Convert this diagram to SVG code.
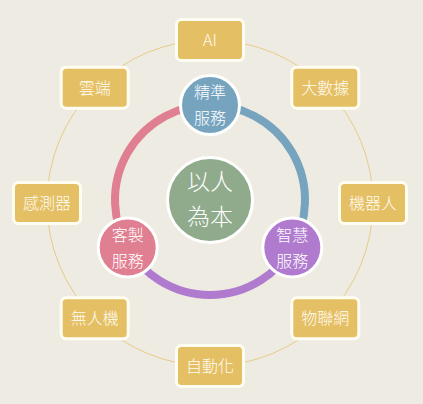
<svg xmlns="http://www.w3.org/2000/svg" width="423" height="404" viewBox="0 0 423 404">
<style>
.box{fill:#e5bf64;stroke:#fffdf2;stroke-width:3}
.bt{font-family:"Noto Sans CJK TC","Noto Sans CJK SC",sans-serif;font-weight:300;font-size:16px;fill:#fffdf2;text-anchor:middle}
.ct{font-family:"Noto Sans CJK TC","Noto Sans CJK SC",sans-serif;font-weight:300;fill:#ffffff;text-anchor:middle}
.node{stroke:#ffffff;stroke-width:3}
</style>
<rect width="423" height="404" fill="#eeebe3"/>
<g id="connectors" fill="none">
<circle cx="210" cy="203" r="163" stroke="#e6cc88" stroke-width="1"/>
<path d="M210,105 A95,95 0 0 1 292.27,247.5" stroke="#76a4bf" stroke-width="8"/>
<path d="M292.27,247.5 A95,95 0 0 1 127.73,247.5" stroke="#b07bcf" stroke-width="8"/>
<path d="M127.73,247.5 A95,95 0 0 1 210,105" stroke="#e07f91" stroke-width="8"/>
</g>
<g id="n-ai"><rect class="box" x="176.5" y="19.5" width="67" height="41" rx="5"/><text class="bt" x="210" y="45.5">AI</text></g>
<g id="n-bigdata"><rect class="box" x="291.8" y="67.2" width="67" height="41" rx="5"/><text class="bt" x="325.3" y="93.5">大數據</text></g>
<g id="n-robot"><rect class="box" x="339.5" y="182.5" width="67" height="41" rx="5"/><text class="bt" x="373" y="208.5">機器人</text></g>
<g id="n-iot"><rect class="box" x="291.8" y="297.8" width="67" height="41" rx="5"/><text class="bt" x="325.3" y="324">物聯網</text></g>
<g id="n-auto"><rect class="box" x="176.5" y="345.5" width="67" height="41" rx="5"/><text class="bt" x="210" y="371.5">自動化</text></g>
<g id="n-drone"><rect class="box" x="61.2" y="297.8" width="67" height="41" rx="5"/><text class="bt" x="94.7" y="324">無人機</text></g>
<g id="n-sensor"><rect class="box" x="13.5" y="182.5" width="67" height="41" rx="5"/><text class="bt" x="47" y="208.5">感測器</text></g>
<g id="n-cloud"><rect class="box" x="61.2" y="67.2" width="67" height="41" rx="5"/><text class="bt" x="94.7" y="93.5">雲端</text></g>
<g id="n-center"><circle class="node" cx="210" cy="200" r="42.5" fill="#8fab8c"/><text class="ct" font-size="23" x="210" y="190">以人</text><text class="ct" font-size="23" x="210" y="225">為本</text></g>
<g id="n-precise"><circle class="node" cx="210" cy="105" r="29.5" fill="#76a4bf"/><text class="ct" font-size="16" x="210" y="98">精準</text><text class="ct" font-size="16" x="210" y="124">服務</text></g>
<g id="n-custom"><circle class="node" cx="127.7" cy="247.5" r="29.5" fill="#e07f91"/><text class="ct" font-size="16" x="127.7" y="240.5">客製</text><text class="ct" font-size="16" x="127.7" y="266.5">服務</text></g>
<g id="n-smart"><circle class="node" cx="292.3" cy="247.5" r="29.5" fill="#b07bcf"/><text class="ct" font-size="16" x="292.3" y="240.5">智慧</text><text class="ct" font-size="16" x="292.3" y="266.5">服務</text></g>
</svg>
